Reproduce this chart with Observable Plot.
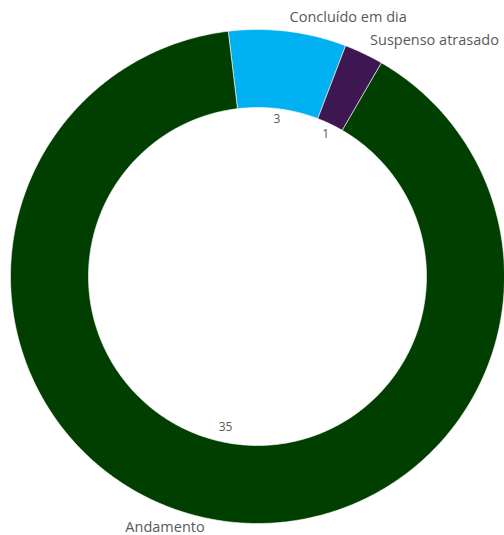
<!DOCTYPE html>
<html>
<head>
<meta charset="utf-8">
<script src="https://cdn.jsdelivr.net/npm/d3@7"></script>
<script src="https://cdn.jsdelivr.net/npm/@observablehq/plot@0.6"></script>
<style>
  html, body { margin: 0; padding: 0; background: #fff; }
  #chart svg { overflow: visible; }
</style>
</head>
<body>
<div id="chart"></div>
<script>
const categories = ["Concluído em dia", "Suspenso atrasado", "Andamento"];
const values = [3, 1, 35];
const colors = ["#00b0f0", "#3e1752", "#003f00"];

const startDeg = -6.8;
const innerR = 169 / 247;
const labelR = 1.058;
const valueR = 0.64;

const pie = d3.pie().sort(null).value(d => d.value)
  .startAngle(startDeg * Math.PI / 180)
  .endAngle(startDeg * Math.PI / 180 + 2 * Math.PI);
const data = categories.map((c, i) => ({category: c, value: values[i], color: colors[i]}));
const arcs = pie(data);

// polygon points for each slice (angle measured clockwise from top)
const pts = [];
for (const a of arcs) {
  const n = Math.max(4, Math.ceil((a.endAngle - a.startAngle) / (Math.PI / 360)));
  const ring = [];
  for (let k = 0; k <= n; k++) {
    const t = a.startAngle + (a.endAngle - a.startAngle) * k / n;
    ring.push({category: a.data.category, x: Math.sin(t), y: Math.cos(t)});
  }
  for (let k = n; k >= 0; k--) {
    const t = a.startAngle + (a.endAngle - a.startAngle) * k / n;
    ring.push({category: a.data.category, x: innerR * Math.sin(t), y: innerR * Math.cos(t)});
  }
  ring.push(ring[0]);
  pts.push(...ring);
}

const labels = arcs.map(a => {
  const m = (a.startAngle + a.endAngle) / 2;
  return {
    category: a.data.category,
    value: a.data.value,
    right: Math.sin(m) >= 0,
    lx: labelR * Math.sin(m), ly: labelR * Math.cos(m),
    vx: valueR * Math.sin(m), vy: valueR * Math.cos(m)
  };
});

const cx = 257, cy = 276, R = 247;
const font = "'Open Sans', sans-serif";
const chart = Plot.plot({
  width: 504,
  height: 535,
  margin: 0,
  style: {background: "transparent", overflow: "visible"},
  x: {domain: [-1, 1], range: [cx - R, cx + R], axis: null},
  y: {domain: [-1, 1], range: [cy + R, cy - R], axis: null},
  color: {domain: categories, range: colors},
  marks: [
    Plot.line(pts, {x: "x", y: "y", z: "category", fill: "category", stroke: "#ffffff", strokeWidth: 0.6, curve: "linear"}),
    Plot.text(labels.filter(d => d.right), {x: "lx", y: "ly", text: "category", textAnchor: "start", fill: "#595959", fontSize: 14.5, fontFamily: font}),
    Plot.text(labels.filter(d => !d.right), {x: "lx", y: "ly", dy: -5, text: "category", textAnchor: "end", fill: "#595959", fontSize: 14.5, fontFamily: font}),
    Plot.text(labels.filter(d => d.vy >= 0), {x: "vx", y: "vy", text: d => String(d.value), fill: "#595959", fontSize: 12, fontFamily: font}),
    Plot.text(labels.filter(d => d.vy < 0), {x: "vx", y: "vy", dy: -4, text: d => String(d.value), fill: "#595959", fontSize: 12, fontFamily: font})
  ]
});
document.getElementById("chart").appendChild(chart);
</script>
</body>
</html>
